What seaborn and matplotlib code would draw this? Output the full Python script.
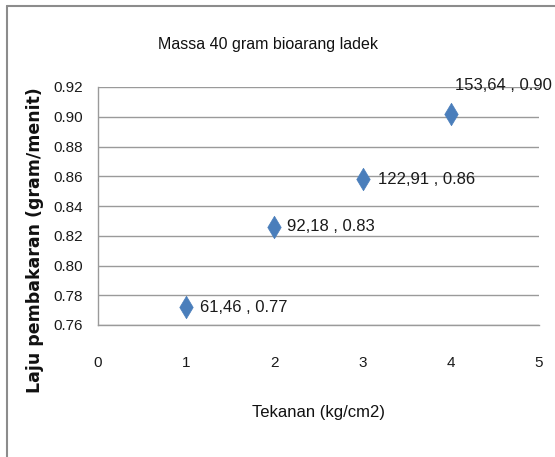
import matplotlib
matplotlib.use("Agg")
import matplotlib.pyplot as plt
import seaborn as sns
import pandas as pd

# Data
tekanan = [1, 2, 3, 4]
laju = [0.772, 0.826, 0.858, 0.902]
energi = [61.46, 92.18, 122.91, 153.64]
yticks = [0.76, 0.78, 0.80, 0.82, 0.84, 0.86, 0.88, 0.90, 0.92]
xticks = [0, 1, 2, 3, 4, 5]

title = "Massa 40 gram bioarang ladek"
xlabel = "Tekanan (kg/cm2)"
ylabel = "Laju pembakaran (gram/menit)"

sns.set_theme(style="white")
plt.rcParams["font.family"] = ["Liberation Sans", "DejaVu Sans"]

df = pd.DataFrame({"x": tekanan, "y": laju, "e": energi})

W, H = 555, 457
fig = plt.figure(figsize=(W / 100, H / 100), dpi=100)
ax = fig.add_axes([98 / W, 1 - 325 / H, (539 - 98) / W, (325 - 87) / H])

grid_c = "#9a9a9a"
sns.scatterplot(data=df, x="x", y="y", ax=ax, marker="d", s=130,
                color="#4a7ebb", edgecolor="#4a7ebb", linewidth=0.5, zorder=3)

ax.set_xlim(0, 5)
ax.set_ylim(0.76, 0.92)
ax.set_xticks(xticks)
ax.set_yticks(yticks)
ax.set_xticklabels([str(t) for t in xticks])
ax.set_yticklabels([f"{t:.2f}" for t in yticks])
ax.yaxis.grid(True, color=grid_c, linewidth=1)
ax.xaxis.grid(False)
for side in ("top", "right"):
    ax.spines[side].set_visible(False)
for side in ("left", "bottom"):
    ax.spines[side].set_color(grid_c)
    ax.spines[side].set_linewidth(1)
ax.tick_params(axis="both", which="major", direction="out", length=3.6,
               width=1, color=grid_c, labelsize=11, labelcolor="#1a1a1a")
ax.tick_params(axis="x", pad=19)
ax.tick_params(axis="y", pad=7)
ax.set_xlabel("")
ax.set_ylabel("")

# Point labels
offsets = [(14, 0), (13, 0), (15, 0), (4, 28)]
for (dx, dy), xv, yv, ev in zip(offsets, tekanan, laju, energi):
    txt = f"{ev:.2f}".replace(".", ",") + f" , {yv:.2f}"
    ax.annotate(txt, (xv, yv), xytext=(dx, dy), textcoords="offset pixels",
                ha="left", va="center", fontsize=12, color="#1a1a1a",
                annotation_clip=False)

fig.text(268 / W, 1 - 45 / H, title, ha="center", va="center",
         fontsize=11.5, color="#111111")
fig.text(318 / W, 1 - 412 / H, xlabel, ha="center", va="center",
         fontsize=12, color="#111111")
fig.text(35 / W, 1 - 240 / H, ylabel, ha="center", va="center",
         rotation=90, fontsize=12.5, fontweight="bold", color="#111111",
         family="DejaVu Sans")

# Chart frame (top and left edges)
fig.add_artist(plt.Line2D([7 / W, 7 / W], [0, 1 - 6 / H],
                          transform=fig.transFigure, color="#8c8c8c", lw=1.5))
fig.add_artist(plt.Line2D([7 / W, 1], [1 - 6 / H, 1 - 6 / H],
                          transform=fig.transFigure, color="#8c8c8c", lw=1.5))

fig.savefig("out.png", dpi=100, facecolor="white")
